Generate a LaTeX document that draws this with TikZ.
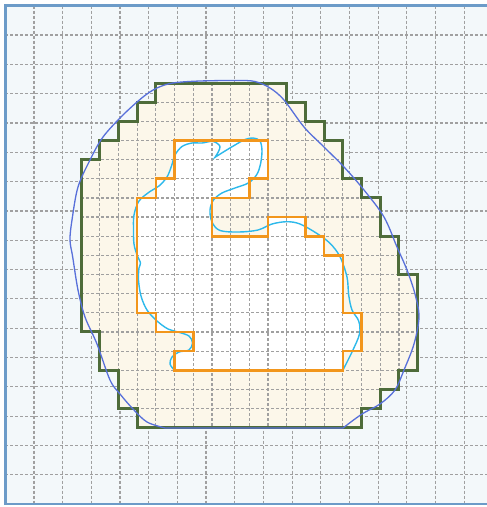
\documentclass[tikz,border=0pt]{standalone}
\definecolor{framec}{RGB}{108,155,200}
\definecolor{bgc}{RGB}{243,248,250}
\definecolor{creamc}{RGB}{252,247,234}
\definecolor{greenc}{RGB}{78,108,58}
\definecolor{orangec}{RGB}{242,150,28}
\definecolor{bluec}{RGB}{88,112,218}
\definecolor{cyanc}{RGB}{45,185,235}
\definecolor{gridc}{RGB}{160,160,160}
\newcommand\GreenPoly{(4,0) -- (11,0) -- (11,1) -- (12,1) -- (12,2) -- (13,2) -- (13,3) -- (14,3) -- (14,5) -- (15,5) -- (15,6) -- (16,6) -- (16,8) -- (17,8) -- (17,10) -- (18,10) -- (18,15) -- (17,15) -- (17,16) -- (16,16) -- (16,17) -- (15,17) -- (15,18) -- (3,18) -- (3,17) -- (2,17) -- (2,15) -- (1,15) -- (1,13) -- (0,13) -- (0,4) -- (1,4) -- (1,3) -- (2,3) -- (2,2) -- (3,2) -- (3,1) -- (4,1) -- cycle}
\newcommand\OrangePoly{(5,3) -- (10,3) -- (10,5) -- (9,5) -- (9,6) -- (7,6) -- (7,8) -- (10,8) -- (10,7) -- (12,7) -- (12,8) -- (13,8) -- (13,9) -- (14,9) -- (14,12) -- (15,12) -- (15,14) -- (14,14) -- (14,15) -- (5,15) -- (5,14) -- (6,14) -- (6,13) -- (4,13) -- (4,12) -- (3,12) -- (3,6) -- (4,6) -- (4,5) -- (5,5) -- cycle}
\begin{document}
\begin{tikzpicture}[x=1pt,y=-1pt,
  gridline/.style={gridc, line width=1.2pt, dash pattern=on 3pt off 2pt},
  greenline/.style={greenc, line width=3pt, line join=miter},
  orangeline/.style={orangec, line width=2.6pt, line join=miter},
  bluecurve/.style={bluec, line width=1.3pt},
  cyancurve/.style={cyanc, line width=1.4pt}]
\useasboundingbox (0,0) rectangle (487,507);
\clip (0,0) rectangle (487,507);
% background and coarse grid
\fill[bgc] (5.3,5.7) rectangle (492.2,504.1);
\foreach \k in {0,...,15} {
  \draw[gridline] ({34+28.68*\k},5.7) -- ({34+28.68*\k},504.1);
  \draw[gridline] (5.3,{35+29.32*\k}) -- (492.2,{35+29.32*\k});
}
\draw[framec, line width=2.5pt] (5.3,5.7) rectangle (492.2,504.1);
% fine region
\begin{scope}[shift={(81,83)}, x=18.7pt, y=-19.15pt]
  \fill[creamc] \GreenPoly;
  \fill[white] \OrangePoly;
  \begin{scope}
    \clip \GreenPoly;
    \foreach \i in {1,...,17} {
      \draw[gridline] (\i,0) -- (\i,18);
      \draw[gridline] (0,\i) -- (18,\i);
    }
  \end{scope}
  \draw[greenline] \GreenPoly;
\end{scope}
% inner cyan curve
\draw[cyancurve] plot[smooth, tension=0.55] coordinates {(174.5,370.3) (170,364) (172,357) (179,352) (189,350) (192.5,343) (189,336) (178,332) (168,329) (157,321) (147,310) (141,296) (138.5,280) (139,268) (140.5,263) (137,255) (134,244) (133.5,230) (134,215) (139,201) (150,191.5) (159,186) (167,177) (171.5,166) (175,155) (182,146.5) (192,143) (202,143) (211.7,141.3) (216.7,143) (220,146.5) (218.5,151.5) (215,157.3)}
  -- plot[smooth, tension=0.55] coordinates {(215,157.3) (225,151) (235,145) (245,139.5) (253.3,138) (260,141) (262,151) (260.5,164) (256.7,174.7) (248.3,183) (235,188) (222,193) (213.5,200) (210,210) (212,222) (220,230.5) (239,232) (258,230) (272,224) (287,221.7) (300,224) (316.7,233.3) (330,243.3) (340,256.7) (347,277) (348.7,295) (352,310) (358.7,321) (359.5,334) (352,352) (342.8,370.3)}
  -- cycle;
\begin{scope}[shift={(81,83)}, x=18.7pt, y=-19.15pt]
  \draw[orangeline] \OrangePoly;
\end{scope}
% outer blue curve
\draw[bluecurve] plot[smooth, tension=0.55] coordinates {(343,428) (362,414) (380,404) (395,390) (404,370) (414,344) (419,317) (415,294) (407,270) (397,247) (384,217) (364,190) (344,167) (324,147) (304,127) (284,100) (270,88) (255,81.5) (237,80.5) (200,81) (173,83) (157,88) (143,97) (123,115) (103,137) (90,160) (78,187) (72,220) (70,240) (72.7,257) (78,290) (85,317) (97,344) (110,380) (120,394) (133,409) (147,422) (165,428)} -- cycle;
\end{tikzpicture}
\end{document}
